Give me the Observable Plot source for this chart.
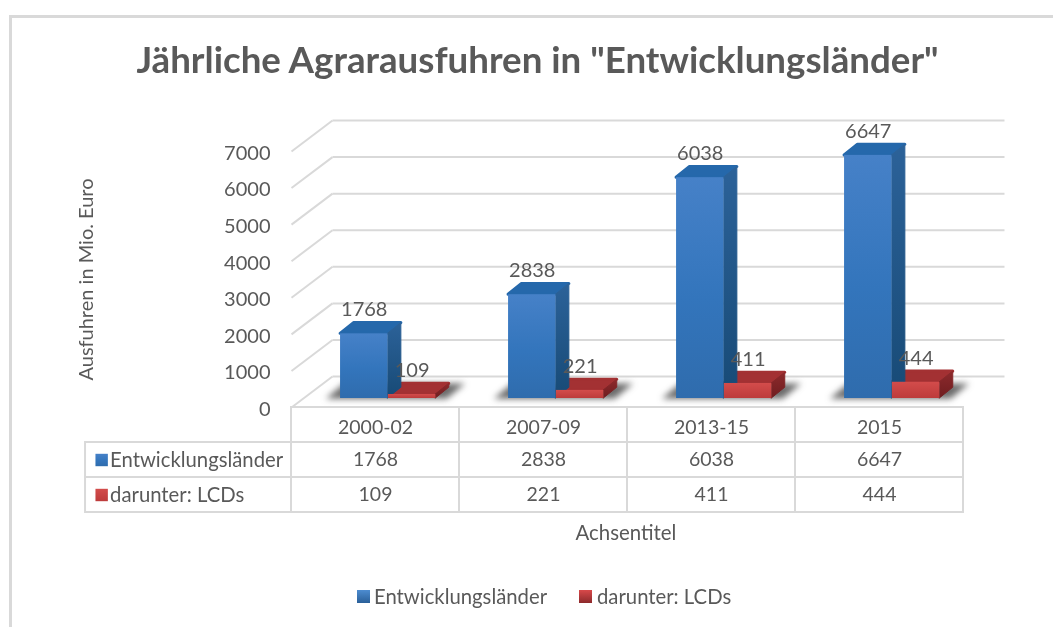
<!DOCTYPE html>
<html lang="de">
<head>
<meta charset="utf-8">
<script src="https://cdn.jsdelivr.net/npm/d3@7"></script>
<script src="https://cdn.jsdelivr.net/npm/@observablehq/plot@0.6"></script>
<style>
  html,body{margin:0;padding:0;background:#fff;}
  #page{position:relative;width:1053px;height:627px;overflow:hidden;font-family:Lato,sans-serif;color:#595959;filter:blur(.45px);}
  #frame{position:absolute;left:9px;top:15px;width:1060px;height:640px;border:3px solid #d9d9d9;box-sizing:border-box;}
  #title{position:absolute;left:0;width:1075px;top:36px;text-align:center;font-size:36.7px;font-weight:700;line-height:46px;white-space:nowrap;}
  #axisTitle{position:absolute;left:526px;width:200px;top:521px;text-align:center;font-size:20.4px;line-height:22px;}
  #legend span.t{position:absolute;top:585px;font-size:20.3px;line-height:23px;white-space:nowrap;}
  #legend span.s{position:absolute;top:590px;width:13px;height:13px;}
  #chart,#table{position:absolute;left:0;}
  #chart{top:0;} #table{top:405px;}
  svg{overflow:visible;}
</style>
</head>
<body>
<div id="page">
  <div id="frame"></div>
  <div id="title"></div>
  <div id="chart"></div>
  <div id="table"></div>
  <div id="axisTitle"></div>
  <div id="legend"></div>
</div>
<script>
const titleText = 'Jährliche Agrarausfuhren in "Entwicklungsländer"';
const yAxisTitle = "Ausfuhren in Mio. Euro";
const xAxisTitle = "Achsentitel";
const categories = ["2000-02", "2007-09", "2013-15", "2015"];
const seriesNames = ["Entwicklungsländer", "darunter: LCDs"];
const developing = [1768, 2838, 6038, 6647];
const lcds = [109, 221, 411, 444];
const yTicks = [0, 1000, 2000, 3000, 4000, 5000, 6000, 7000];

// 3-D projection, in data units of the two scales
const wallDx = 0.244, wallDy = 847;   // front of floor -> back wall
const barDx = 0.08, barDy = 295;      // depth of a bar
const lift = 246;                     // bars stand back from the floor's front edge
const barW = 0.282, barStart = 0.292;

const bars = [];
categories.forEach((c, i) => {
  bars.push({id: "d" + i, s: 0, v: developing[i], x0: i + barStart});
  bars.push({id: "l" + i, s: 1, v: lcds[i], x0: i + barStart + barW + 0.003});
});
bars.forEach(b => { b.x1 = b.x0 + barW; b.yb = lift; b.yt = lift + b.v; });

function topFace(b) {
  return [
    {id: b.id, s: b.s, x: b.x0, y1: b.yt, y2: b.yt},
    {id: b.id, s: b.s, x: b.x0 + barDx, y1: b.yt, y2: b.yt + barDy},
    {id: b.id, s: b.s, x: b.x1, y1: b.yt, y2: b.yt + barDy},
    {id: b.id, s: b.s, x: b.x1 + barDx, y1: b.yt + barDy, y2: b.yt + barDy}
  ];
}
function sideFace(b) {
  return [
    {id: b.id, s: b.s, x: b.x1, y1: b.yb, y2: b.yt},
    {id: b.id, s: b.s, x: b.x1 + barDx, y1: b.yb + barDy, y2: b.yt + barDy}
  ];
}
function shadow(i) {
  const x0 = i + barStart - 0.085, x1 = i + barStart + 2 * barW + 0.07, sx = 0.11, yb = lift - 20, yt = lift + 400;
  return [
    {id: i, x: x0, y1: yb, y2: yb},
    {id: i, x: x0 + sx, y1: yb, y2: yt},
    {id: i, x: x1, y1: yb, y2: yt},
    {id: i, x: x1 + sx, y1: yt, y2: yt}
  ];
}
const blurred = px => (index, scales, values, dims, ctx, next) => {
  const g = next(index, scales, values, dims, ctx);
  g.style.filter = `blur(${px}px)`;
  return g;
};
const defs = () => {
  const d = document.createElementNS("http://www.w3.org/2000/svg", "defs");
  const grad = (id, stops) => `<linearGradient id="${id}" x1="0" y1="0" x2="0" y2="1">` +
    stops.map(([o, c]) => `<stop offset="${o}" stop-color="${c}"/>`).join("") + `</linearGradient>`;
  d.innerHTML =
    grad("frontBlue", [[0, "#4681c8"], [.55, "#3375bc"], [1, "#2f6cad"]]) +
    grad("sideBlue", [[0, "#2c6299"], [1, "#174a76"]]) +
    grad("frontRed", [[0, "#d34c4b"], [1, "#bd3b3b"]]) +
    grad("sideRed", [[0, "#8d2a2c"], [1, "#6f1d20"]]);
  return d;
};
const faceFill = (blue, red) => d => d.s === 0 ? blue : red;
const textFont = {fontFamily: "Lato, sans-serif", fill: "#595959"};

const chart = Plot.plot({
  width: 1053, height: 412,
  marginLeft: 291, marginRight: 90, marginTop: 151, marginBottom: 5,
  style: {background: "transparent", overflow: "visible"},
  x: {domain: [0, 4], axis: null},
  y: {domain: [0, 7000], axis: null},
  marks: [
    defs,
    Plot.link(yTicks, {x1: 0, x2: wallDx, y1: d => d, y2: d => d + wallDy, stroke: "#d9d9d9", strokeWidth: 2}),
    Plot.link(yTicks, {x1: wallDx, x2: 4 + wallDx, y1: d => d + wallDy, y2: d => d + wallDy, stroke: "#d9d9d9", strokeWidth: 2}),
    Plot.axisY(yTicks, {anchor: "left", tickSize: 0, tickPadding: 21, tickFormat: d => String(d), fontSize: 20, label: null, ...textFont, dy: 2}),
    Plot.text([yAxisTitle], {frameAnchor: "left", textAnchor: "middle", rotate: -90, dx: -205, fontSize: 20, ...textFont}),
    Plot.area(categories.flatMap((c, i) => shadow(i)), {x1: "x", y1: "y1", y2: "y2", z: "id", fill: "#3a3a3a", fillOpacity: 0.75, render: blurred(3)}),
    Plot.area(bars.flatMap(topFace), {x1: "x", y1: "y1", y2: "y2", z: "id", fill: faceFill("#2568ab", "#a33133"), stroke: faceFill("#2568ab", "#a33133"), strokeWidth: 3, strokeLinejoin: "round"}),
    Plot.area(bars.flatMap(sideFace), {x1: "x", y1: "y1", y2: "y2", z: "id", fill: faceFill("url(#sideBlue)", "url(#sideRed)"), stroke: faceFill("url(#sideBlue)", "url(#sideRed)"), strokeLinejoin: "round"}),
    Plot.rect(bars, {x1: "x0", x2: "x1", y1: "yb", y2: "yt", fill: faceFill("url(#frontBlue)", "url(#frontRed)")}),
    Plot.text(bars, {x: d => (d.x0 + d.x1) / 2, y: "yt", text: d => String(d.v), dy: -24, fontSize: 20, ...textFont})
  ]
});
document.getElementById("chart").append(chart);

// data table under the chart
const headerRow = " ";
const rows = [headerRow, ...seriesNames];
const seriesValues = [developing, lcds];
const cells = [
  ...categories.map((c, i) => ({x1: i, x2: i + 1, row: headerRow})),
  ...seriesNames.flatMap((s, k) => categories.map((c, i) => ({x1: i, x2: i + 1, row: s}))),
  ...seriesNames.map(s => ({x1: -1.226, x2: 0, row: s}))
];
const table = Plot.plot({
  width: 1053, height: 108,
  marginLeft: 291, marginRight: 90, marginTop: 2, marginBottom: 1,
  style: {background: "transparent", overflow: "visible"},
  x: {domain: [0, 4], axis: null},
  y: {type: "band", domain: rows, padding: 0, axis: null},
  marks: [
    Plot.barX(cells, {x1: "x1", x2: "x2", y: "row", fill: "#fff", stroke: "#d9d9d9", strokeWidth: 2}),
    Plot.text(categories, {x: (d, i) => i + 0.5, y: () => headerRow, text: d => d, dy: 3, fontSize: 19.5, ...textFont}),
    Plot.text(seriesNames.flatMap((s, k) => categories.map((c, i) => ({s, i, v: seriesValues[k][i]}))),
      {x: d => d.i + 0.5, y: "s", text: d => String(d.v), fontSize: 19.5, ...textFont}),
    Plot.text(seriesNames, {x: -1.08, y: d => d, text: d => d, textAnchor: "start", fontSize: 20.3, ...textFont}),
    Plot.dot(seriesNames, {x: -1.13, y: d => d, symbol: "square", r: 7, fill: (d, i) => i === 0 ? "url(#frontBlue)" : "url(#frontRed)"})
  ]
});
document.getElementById("table").append(table);

document.getElementById("title").textContent = titleText;
document.getElementById("axisTitle").textContent = xAxisTitle;
const legendEl = document.getElementById("legend");
const swatches = ["linear-gradient(#4d8cd0,#2a6099)", "linear-gradient(#d8494a,#8d2a2c)"];
const legendPos = [[357, 374], [579, 597]];
seriesNames.forEach((s, i) => {
  legendEl.insertAdjacentHTML("beforeend",
    `<span class="s" style="left:${legendPos[i][0]}px;background:${swatches[i]}"></span><span class="t" style="left:${legendPos[i][1]}px">${s}</span>`);
});
</script>
</body>
</html>
